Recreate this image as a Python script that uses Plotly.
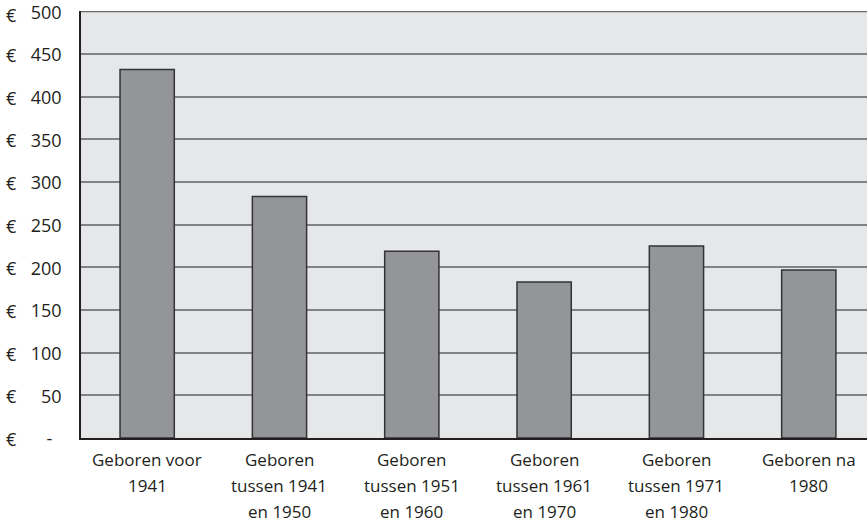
import plotly.graph_objects as go

categories = ["Geboren voor<br>1941", "Geboren<br>tussen 1941<br>en 1950", "Geboren<br>tussen 1951<br>en 1960",
              "Geboren<br>tussen 1961<br>en 1970", "Geboren<br>tussen 1971<br>en 1980", "Geboren na<br>1980"]
values = [432, 283, 219, 183, 225, 197]
tick_vals = [0, 50, 100, 150, 200, 250, 300, 350, 400, 450, 500]
tick_text = ["-\u00a0\u00a0", "50", "100", "150", "200", "250", "300", "350", "400", "450", "500"]

FONT = "Open Sans"
TXT = "#231f20"

x_idx = list(range(len(categories)))

fig = go.Figure()
fig.add_trace(go.Bar(
    x=x_idx, y=values, width=0.41,
    marker=dict(color="#939598", line=dict(color="#333333", width=1.5)),
    hoverinfo="skip",
))

annotations = []
for i, lab in enumerate(categories):
    for k, line in enumerate(lab.split("<br>")):
        annotations.append(dict(
            x=i, y=0, xref="x", yref="y", text=line, showarrow=False,
            xanchor="center", yanchor="middle", yshift=-21 - 26 * k,
            font=dict(family=FONT, size=17, color=TXT),
        ))
for v in tick_vals:
    annotations.append(dict(
        x=-0.094, y=v, xref="paper", yref="y", text="€", showarrow=False,
        xanchor="left", yanchor="middle", xshift=-3, yshift=-3 if v == 500 else -1,
        font=dict(family=FONT, size=18, color=TXT),
    ))

fig.update_layout(
    width=867, height=525,
    margin=dict(l=81, r=0, t=9, b=87),
    paper_bgcolor="white", plot_bgcolor="#e6e7e8",
    showlegend=False,
    annotations=annotations,
    xaxis=dict(range=[-0.5, 5.44], showticklabels=False, showgrid=False, zeroline=False,
               showline=True, linecolor=TXT, linewidth=1.5, ticks=""),
    yaxis=dict(range=[0, 500.6], tickvals=tick_vals, ticktext=tick_text,
               showgrid=True, gridcolor="#808285", gridwidth=1.5, zeroline=False,
               showline=True, linecolor=TXT, linewidth=1.5,
               ticks="outside", ticklen=14, tickcolor="rgba(0,0,0,0)",
               ticklabeloverflow="allow", ticklabelshift=1,
               tickfont=dict(family=FONT, size=18, color=TXT)),
)
fig.add_shape(type="line", xref="paper", yref="y", x0=0, x1=1, y0=500, y1=500,
              line=dict(color="#6d6e71", width=1.5), layer="below")

fig.write_html("out.html")
